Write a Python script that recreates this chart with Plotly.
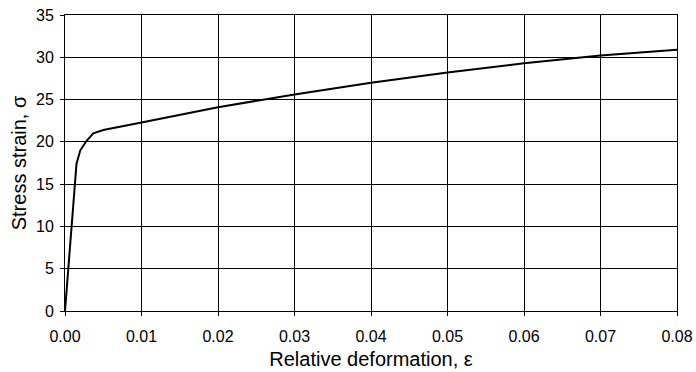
import plotly.graph_objects as go

eps = [0, 0.0015, 0.002, 0.0028, 0.0037, 0.005, 0.01, 0.02, 0.03, 0.04, 0.05, 0.06, 0.07, 0.08]
sigma = [0, 17.4, 19.0, 20.1, 21.0, 21.4, 22.3, 24.1, 25.6, 27.0, 28.2, 29.3, 30.2, 30.9]

x_ticks = [0, 0.01, 0.02, 0.03, 0.04, 0.05, 0.06, 0.07, 0.08]
x_labels = ["0.00", "0.01", "0.02", "0.03", "0.04", "0.05", "0.06", "0.07", "0.08"]
y_ticks = [0, 5, 10, 15, 20, 25, 30, 35]

fig = go.Figure()
fig.add_trace(go.Scatter(x=eps, y=sigma, mode="lines",
                         line=dict(color="black", width=2), showlegend=False))

font = "Liberation Sans"
fig.update_layout(
    width=696, height=372,
    margin=dict(l=65, r=19, t=15, b=61),
    paper_bgcolor="white", plot_bgcolor="white",
    font=dict(family=font, size=16, color="black"),
)
fig.update_xaxes(
    range=[0, 0.08], tickvals=x_ticks, ticktext=x_labels,
    showgrid=True, gridcolor="black", gridwidth=1,
    showline=True, linecolor="black", linewidth=1, mirror=True,
    ticks="outside", ticklen=4, tickcolor="black",
    zeroline=False, automargin=False, ticklabelstandoff=7,
    title=dict(text="Relative deformation, ε", font=dict(size=20), standoff=7),
)
fig.update_yaxes(
    range=[0, 35], tickvals=y_ticks,
    showgrid=True, gridcolor="black", gridwidth=1,
    showline=True, linecolor="black", linewidth=1, mirror=True,
    ticks="outside", ticklen=4, tickcolor="black",
    zeroline=False, automargin=False, ticklabelstandoff=3,
    title=dict(text="Stress strain, σ", font=dict(size=20), standoff=4),
)
# remove the default 8px page margin so the figure fills the window exactly
fig.write_html("out.html", config={"displayModeBar": False},
               post_script="document.body.style.margin='0px';")
